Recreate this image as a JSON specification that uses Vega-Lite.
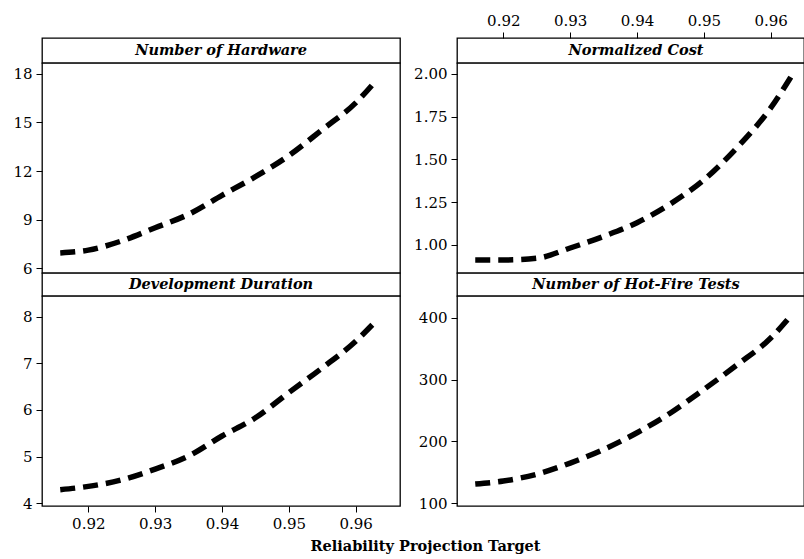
{
  "$schema": "https://vega.github.io/schema/vega-lite/v6.json",
  "padding": {"left": 12, "top": 12, "right": 0, "bottom": 4},
  "background": "white",
  "config": {
    "font": "DejaVu Serif",
    "view": {"stroke": "black", "strokeWidth": 1.3, "fill": "white"},
    "axis": {
      "labelFont": "DejaVu Serif", "labelFontSize": 15, "labelColor": "black",
      "tickColor": "black", "tickSize": 6, "tickWidth": 1, "labelPadding": 4,
      "domain": false, "grid": false, "title": null
    },
    "line": {"color": "black", "strokeWidth": 5.5, "strokeDash": [15, 8], "strokeCap": "butt", "interpolate": "monotone"},
    "text": {"font": "DejaVu Serif", "fontSize": 14.5, "fontWeight": "bold", "fontStyle": "italic", "color": "black"}
  },
  "datasets": {
    "d": [
      {"x": 0.9158, "metric": "Number of Hardware", "value": 6.95},
      {"x": 0.92, "metric": "Number of Hardware", "value": 7.12},
      {"x": 0.925, "metric": "Number of Hardware", "value": 7.69},
      {"x": 0.93, "metric": "Number of Hardware", "value": 8.5},
      {"x": 0.935, "metric": "Number of Hardware", "value": 9.33},
      {"x": 0.94, "metric": "Number of Hardware", "value": 10.5},
      {"x": 0.945, "metric": "Number of Hardware", "value": 11.65},
      {"x": 0.95, "metric": "Number of Hardware", "value": 12.95},
      {"x": 0.955, "metric": "Number of Hardware", "value": 14.55},
      {"x": 0.96, "metric": "Number of Hardware", "value": 16.2},
      {"x": 0.963, "metric": "Number of Hardware", "value": 17.55},
      {"x": 0.9158, "metric": "Normalized Cost", "value": 0.912},
      {"x": 0.92, "metric": "Normalized Cost", "value": 0.912},
      {"x": 0.925, "metric": "Normalized Cost", "value": 0.922},
      {"x": 0.93, "metric": "Normalized Cost", "value": 0.982},
      {"x": 0.935, "metric": "Normalized Cost", "value": 1.05},
      {"x": 0.94, "metric": "Normalized Cost", "value": 1.13},
      {"x": 0.945, "metric": "Normalized Cost", "value": 1.24},
      {"x": 0.95, "metric": "Normalized Cost", "value": 1.38},
      {"x": 0.955, "metric": "Normalized Cost", "value": 1.57},
      {"x": 0.96, "metric": "Normalized Cost", "value": 1.8},
      {"x": 0.963, "metric": "Normalized Cost", "value": 1.98},
      {"x": 0.9158, "metric": "Development Duration", "value": 4.29},
      {"x": 0.92, "metric": "Development Duration", "value": 4.36},
      {"x": 0.925, "metric": "Development Duration", "value": 4.5},
      {"x": 0.93, "metric": "Development Duration", "value": 4.73},
      {"x": 0.935, "metric": "Development Duration", "value": 5.01},
      {"x": 0.94, "metric": "Development Duration", "value": 5.44},
      {"x": 0.945, "metric": "Development Duration", "value": 5.83},
      {"x": 0.95, "metric": "Development Duration", "value": 6.37},
      {"x": 0.955, "metric": "Development Duration", "value": 6.9},
      {"x": 0.96, "metric": "Development Duration", "value": 7.47},
      {"x": 0.963, "metric": "Development Duration", "value": 7.9},
      {"x": 0.9158, "metric": "Number of Hot-Fire Tests", "value": 131},
      {"x": 0.92, "metric": "Number of Hot-Fire Tests", "value": 136},
      {"x": 0.925, "metric": "Number of Hot-Fire Tests", "value": 147},
      {"x": 0.93, "metric": "Number of Hot-Fire Tests", "value": 165},
      {"x": 0.935, "metric": "Number of Hot-Fire Tests", "value": 187},
      {"x": 0.94, "metric": "Number of Hot-Fire Tests", "value": 214},
      {"x": 0.945, "metric": "Number of Hot-Fire Tests", "value": 246},
      {"x": 0.95, "metric": "Number of Hot-Fire Tests", "value": 284},
      {"x": 0.955, "metric": "Number of Hot-Fire Tests", "value": 324},
      {"x": 0.96, "metric": "Number of Hot-Fire Tests", "value": 367},
      {"x": 0.963, "metric": "Number of Hot-Fire Tests", "value": 403}
    ],
    "strips": [
      {"panel": "Number of Hardware", "xc": 0.93985, "yc": 0.5},
      {"panel": "Normalized Cost", "xc": 0.93985, "yc": 0.5},
      {"panel": "Development Duration", "xc": 0.93985, "yc": 0.5},
      {"panel": "Number of Hot-Fire Tests", "xc": 0.93985, "yc": 0.5}
    ]
  },
  "columns": 2,
  "bounds": "flush",
  "spacing": {"row": 0, "column": 57},
  "concat": [
    {
      "width": 358, "height": 25,
      "data": {"name": "strips"},
      "transform": [{"filter": "datum.panel === 'Number of Hardware'"}],
      "mark": {"type": "text"},
      "encoding": {
        "text": {"field": "panel"},
        "x": {"field": "xc", "type": "quantitative", "scale": {"domain": [0.91307, 0.96663], "nice": false, "zero": false}, "axis": null},
        "y": {"field": "yc", "type": "quantitative", "scale": {"domain": [0, 1], "nice": false}, "axis": null}
      }
    },
    {
      "width": 347, "height": 25,
      "data": {"name": "strips"},
      "transform": [{"filter": "datum.panel === 'Normalized Cost'"}],
      "mark": {"type": "text"},
      "encoding": {
        "text": {"field": "panel"},
        "x": {"field": "xc", "type": "quantitative", "scale": {"domain": [0.91307, 0.96498], "nice": false, "zero": false}, "axis": null},
        "y": {"field": "yc", "type": "quantitative", "scale": {"domain": [0, 1], "nice": false}, "axis": null}
      }
    },
    {
      "width": 358, "height": 210,
      "data": {"name": "d"},
      "transform": [{"filter": "datum.metric === 'Number of Hardware'"}],
      "mark": {"type": "line"},
      "encoding": {
        "x": {"field": "x", "type": "quantitative", "scale": {"domain": [0.91307, 0.96663], "nice": false, "zero": false}, "axis": null},
        "y": {"field": "value", "type": "quantitative", "scale": {"domain": [5.71, 18.66], "nice": false, "zero": false}, "axis": {"values": [6, 9, 12, 15, 18]}}
      }
    },
    {
      "width": 347, "height": 210,
      "data": {"name": "d"},
      "transform": [{"filter": "datum.metric === 'Normalized Cost'"}],
      "mark": {"type": "line"},
      "encoding": {
        "x": {"field": "x", "type": "quantitative", "scale": {"domain": [0.91307, 0.96498], "nice": false, "zero": false}, "axis": {"orient": "top", "offset": 25, "values": [0.92, 0.93, 0.94, 0.95, 0.96], "format": ".2f"}},
        "y": {"field": "value", "type": "quantitative", "scale": {"domain": [0.836, 2.0625], "nice": false, "zero": false}, "axis": {"values": [1, 1.25, 1.5, 1.75, 2], "format": ".2f"}}
      }
    },
    {
      "width": 358, "height": 23,
      "data": {"name": "strips"},
      "transform": [{"filter": "datum.panel === 'Development Duration'"}],
      "mark": {"type": "text"},
      "encoding": {
        "text": {"field": "panel"},
        "x": {"field": "xc", "type": "quantitative", "scale": {"domain": [0.91307, 0.96663], "nice": false, "zero": false}, "axis": null},
        "y": {"field": "yc", "type": "quantitative", "scale": {"domain": [0, 1], "nice": false}, "axis": null}
      }
    },
    {
      "width": 347, "height": 23,
      "data": {"name": "strips"},
      "transform": [{"filter": "datum.panel === 'Number of Hot-Fire Tests'"}],
      "mark": {"type": "text"},
      "encoding": {
        "text": {"field": "panel"},
        "x": {"field": "xc", "type": "quantitative", "scale": {"domain": [0.91307, 0.96498], "nice": false, "zero": false}, "axis": null},
        "y": {"field": "yc", "type": "quantitative", "scale": {"domain": [0, 1], "nice": false}, "axis": null}
      }
    },
    {
      "width": 358, "height": 210,
      "data": {"name": "d"},
      "transform": [{"filter": "datum.metric === 'Development Duration'"}],
      "mark": {"type": "line"},
      "encoding": {
        "x": {"field": "x", "type": "quantitative", "scale": {"domain": [0.91307, 0.96663], "nice": false, "zero": false}, "axis": {"values": [0.92, 0.93, 0.94, 0.95, 0.96], "format": ".2f", "title": "Reliability Projection Target", "titleX": 383, "titleFont": "DejaVu Serif", "titleFontSize": 14.5, "titleFontWeight": "bold", "titleColor": "black", "titlePadding": 8}},
        "y": {"field": "value", "type": "quantitative", "scale": {"domain": [3.94, 8.44], "nice": false, "zero": false}, "axis": {"values": [4, 5, 6, 7, 8]}}
      }
    },
    {
      "width": 347, "height": 210,
      "data": {"name": "d"},
      "transform": [{"filter": "datum.metric === 'Number of Hot-Fire Tests'"}],
      "mark": {"type": "line"},
      "encoding": {
        "x": {"field": "x", "type": "quantitative", "scale": {"domain": [0.91307, 0.96498], "nice": false, "zero": false}, "axis": null},
        "y": {"field": "value", "type": "quantitative", "scale": {"domain": [95.6, 435], "nice": false, "zero": false}, "axis": {"values": [100, 200, 300, 400]}}
      }
    }
  ]
}
